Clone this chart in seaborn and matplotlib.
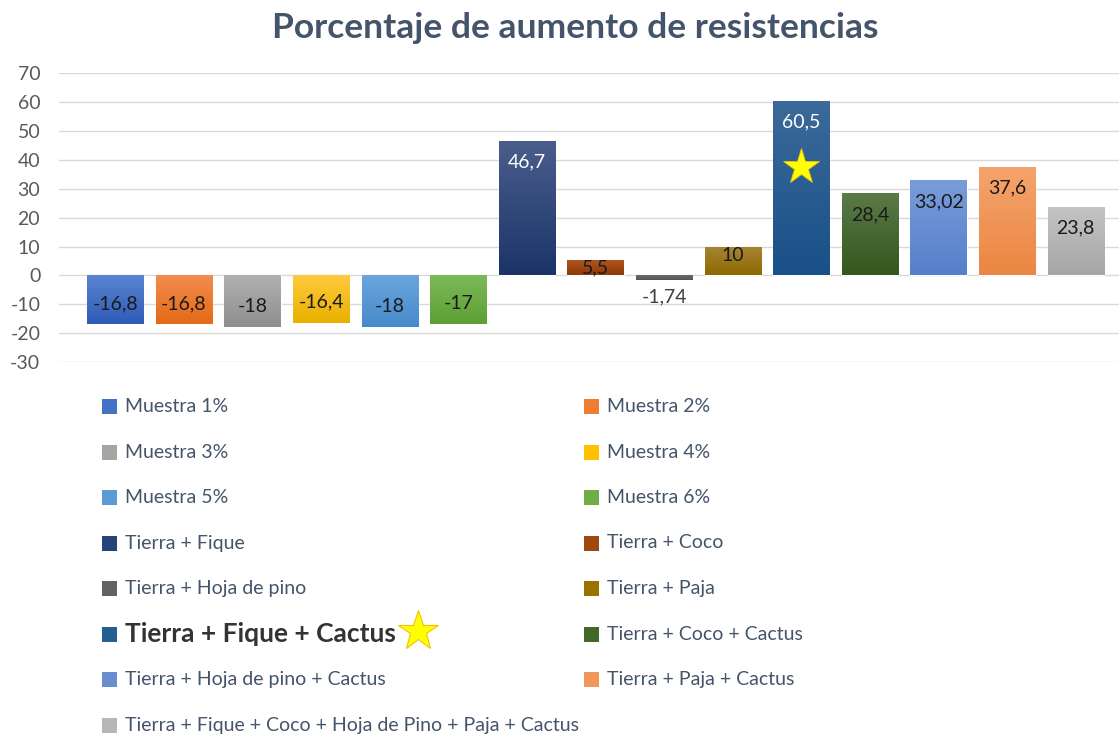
import numpy as np
import pandas as pd
import matplotlib
matplotlib.use("Agg")
import matplotlib.pyplot as plt
import seaborn as sns
from matplotlib.colors import LinearSegmentedColormap
from matplotlib.patches import Rectangle
from matplotlib.lines import Line2D

# === Data ===
names = [
    "Muestra 1%", "Muestra 2%", "Muestra 3%", "Muestra 4%", "Muestra 5%", "Muestra 6%",
    "Tierra + Fique", "Tierra + Coco", "Tierra + Hoja de pino", "Tierra + Paja",
    "Tierra + Fique + Cactus", "Tierra + Coco + Cactus", "Tierra + Hoja de pino + Cactus",
    "Tierra + Paja + Cactus", "Tierra + Fique + Coco + Hoja de Pino + Paja + Cactus",
]
values = [-16.8, -16.8, -18, -16.4, -18, -17, 46.7, 5.5, -1.74, 10, 60.5, 28.4, 33.02, 37.6, 23.8]

mid_colors = ["#4472C4", "#ED7D31", "#A5A5A5", "#FFC000", "#5B9BD5", "#70AD47",
              "#264478", "#9E480E", "#636363", "#997300",
              "#255E91", "#43682B", "#698ED0", "#F1975A", "#B7B7B7"]
top_colors = ["#5B84D1", "#F28D4E", "#B1B1B1", "#FFCA3C", "#6BA6DC", "#7DB95A",
              "#4A5E8C", "#B05522", "#6E6E6E", "#A88535",
              "#3C6A9A", "#5A7A48", "#7A9CDA", "#F5A46E", "#C4C4C4"]
bottom_colors = ["#2E5CB6", "#E36A17", "#8E8E8E", "#E9B000", "#4689CB", "#5D9F33",
                 "#1B3468", "#8D3A05", "#555555", "#8C6900",
                 "#185088", "#34561E", "#5580CB", "#EB8642", "#A6A6A6"]
highlight = "Tierra + Fique + Cactus"

df = pd.DataFrame({"muestra": names, "aumento": values})

W, H = 1119, 734
sns.set_style("white")
plt.rcParams["font.family"] = ["Lato", "DejaVu Sans"]
plt.rcParams["axes.unicode_minus"] = False

fig = plt.figure(figsize=(W / 100, H / 100), dpi=100)
ax = fig.add_axes([59 / W, 1 - 362 / H, 1 - 59 / W, (362 - 73.3) / H])

sns.barplot(data=df, x="muestra", y="aumento", hue="muestra", palette=mid_colors,
            legend=False, width=0.82, ax=ax, zorder=2)

xlim = (-0.82, 14.63)
ylim = (-30, 70)

# gradient fill clipped to each bar
for p in list(ax.patches):
    i = int(round(p.get_x() + p.get_width() / 2))
    y0, y1 = sorted([p.get_y(), p.get_y() + p.get_height()])
    cmap = LinearSegmentedColormap.from_list("g", [top_colors[i], bottom_colors[i]])
    grad = np.linspace(0, 1, 128).reshape(-1, 1)
    im = ax.imshow(grad, cmap=cmap, aspect="auto", zorder=3,
                   extent=[p.get_x(), p.get_x() + p.get_width(), y0, y1])
    im.set_clip_path(p)

ax.set_xlim(*xlim)
ax.set_ylim(*ylim)
ax.set_yticks(range(-30, 71, 10))
ax.set_xticks([])
ax.set_xlabel("")
ax.set_ylabel("")
ax.yaxis.grid(True, color="#D9D9D9", lw=1)
ax.set_axisbelow(True)
sns.despine(ax=ax, left=True, bottom=True)
ax.tick_params(axis="y", length=0, pad=13.5, labelsize=14, labelcolor="#595959")

# data labels
for i, v in enumerate(values):
    txt = f"{v:g}".replace(".", ",")
    color = "#1A1A1A"
    if v > 15:
        y = v - 7.4
        if names[i] in ("Tierra + Fique", highlight):
            color = "white"
    elif v > 3:
        y = v - 3
    elif v > -5:
        y = v - 5.8
        color = "#404040"
    else:
        y = v + 7.1
    ax.text(i, y, txt, ha="center", va="center", fontsize=14, color=color, zorder=5)

# star on the highlighted bar
hi = names.index(highlight)
ax.plot(hi, values[hi] - 22.8, marker="*", ms=27, color="#FFFF00",
        mec="#F2C200", mew=0.6, zorder=6)

# === Legend (two columns, row-wise like Excel) ===
def fx(px):
    return px / W

def fy(py):
    return 1 - py / H

for i, (name, col) in enumerate(zip(names, mid_colors)):
    colx = 102 if i % 2 == 0 else 584
    rowy = 406.5 + (i // 2) * 45.5
    fig.add_artist(Rectangle((fx(colx), fy(rowy + 7.5)), 15 / W, 15 / H,
                             transform=fig.transFigure, facecolor=col, edgecolor="none"))
    if name == highlight:
        star_txt = fig.text(fx(colx + 23), fy(rowy), name, fontsize=19, fontweight="bold",
                            color="#333333", va="center", ha="left")
    else:
        fig.text(fx(colx + 23), fy(rowy), name, fontsize=14, color="#44546A",
                 va="center", ha="left")

fig.canvas.draw()
bb = star_txt.get_window_extent(renderer=fig.canvas.get_renderer())
fig.add_artist(Line2D([(bb.x1 + 22) / W], [fy(631)], transform=fig.transFigure,
                      marker="*", ms=30, color="#FFFF00", mec="#F2C200", mew=0.8))

fig.text(0.514, fy(28), "Porcentaje de aumento de resistencias", fontsize=25.5,
         fontweight="bold", color="#44546A", ha="center", va="center")

fig.savefig("out.png", dpi=100)
